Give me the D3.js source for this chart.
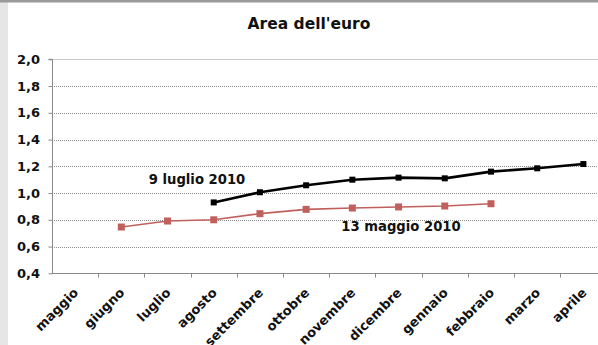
<!DOCTYPE html>
<html>
<head>
<meta charset="utf-8">
<script src="https://cdn.jsdelivr.net/npm/d3@7"></script>
<style>
  html, body { margin: 0; padding: 0; background: #e6e6e6; }
  svg { display: block; }
</style>
</head>
<body>
<svg id="chart" width="598" height="345"></svg>
<script>
// Mesi sull'asse orizzontale
const months = ["maggio", "giugno", "luglio", "agosto", "settembre", "ottobre",
  "novembre", "dicembre", "gennaio", "febbraio", "marzo", "aprile"];

// Previsioni del 9 luglio 2010 (da agosto ad aprile)
const july9Months = ["agosto", "settembre", "ottobre", "novembre", "dicembre",
  "gennaio", "febbraio", "marzo", "aprile"];
const july9Values = [0.93, 1.006, 1.058, 1.10, 1.115, 1.11, 1.16, 1.185, 1.217];

// Previsioni del 13 maggio 2010 (da giugno a febbraio)
const may13Months = ["giugno", "luglio", "agosto", "settembre", "ottobre",
  "novembre", "dicembre", "gennaio", "febbraio"];
const may13Values = [0.746, 0.791, 0.80, 0.846, 0.878, 0.888, 0.896, 0.903, 0.92];

const yTicks = [0.4, 0.6, 0.8, 1.0, 1.2, 1.4, 1.6, 1.8, 2.0];

const svg = d3.select("#chart");
const W = 598, H = 345;
const FONT = "DejaVu Sans, Verdana, sans-serif";

// pannello bianco con bordo superiore grigio
svg.append("rect").attr("x", 8).attr("y", 0).attr("width", W - 8).attr("height", H).attr("fill", "#ffffff");
svg.append("rect").attr("x", 0).attr("y", 0).attr("width", W).attr("height", 2.5).attr("fill", "#9a9a9a");

const x = d3.scaleBand().domain(months).range([52, 606.5]).paddingInner(0).paddingOuter(0);
const y = d3.scaleLinear().domain([0.4, 2.0]).range([273.3, 59.3]);
const fmt = d => d3.format(".1f")(d).replace(".", ",");

// titolo
svg.append("text")
  .attr("x", 309).attr("y", 29)
  .attr("text-anchor", "middle")
  .attr("font-family", FONT)
  .attr("font-weight", "bold")
  .attr("font-size", 15.5)
  .attr("fill", "#111")
  .text("Area dell'euro");

// griglia orizzontale
svg.append("g").selectAll("line")
  .data(yTicks.filter(t => t > 0.4))
  .join("line")
  .attr("x1", 52).attr("x2", W)
  .attr("y1", d => Math.round(y(d)) + 0.5).attr("y2", d => Math.round(y(d)) + 0.5)
  .attr("stroke", d => d === 2.0 ? "#c8c8c8" : "#8c8c8c")
  .attr("stroke-width", 1)
  .attr("stroke-dasharray", d => d === 2.0 ? null : "1,1");

// asse Y
const yAxis = svg.append("g")
  .attr("transform", "translate(52.5,0)")
  .call(d3.axisLeft(y).tickValues(yTicks).tickFormat(fmt).tickSize(4).tickPadding(8.5));
yAxis.select(".domain").attr("stroke", "#888").attr("d", `M-4,${y(2.0)}H0V${y(0.4)}`);
yAxis.selectAll(".tick line").attr("stroke", "#888");
yAxis.selectAll(".tick text")
  .attr("font-family", FONT)
  .attr("font-weight", "bold")
  .attr("font-size", 13)
  .attr("fill", "#111");

// asse X con tacche tra le categorie
const xAxisG = svg.append("g").attr("transform", `translate(0,${Math.round(y(0.4)) + 0.5})`);
xAxisG.append("line").attr("x1", 52).attr("x2", W).attr("stroke", "#888");
xAxisG.selectAll("line.tk")
  .data(months.slice(1))
  .join("line")
  .attr("class", "tk")
  .attr("x1", d => Math.round(x(d)) + 0.5).attr("x2", d => Math.round(x(d)) + 0.5)
  .attr("y1", 0).attr("y2", 4)
  .attr("stroke", "#888");
xAxisG.selectAll("text")
  .data(months)
  .join("text")
  .attr("transform", d => `translate(${x(d) + x.bandwidth() / 2 + 4},${20}) rotate(-45)`)
  .attr("text-anchor", "end")
  .attr("font-family", FONT)
  .attr("font-weight", "bold")
  .attr("font-size", 13)
  .attr("fill", "#111")
  .text(d => d);

const cx = m => x(m) + x.bandwidth() / 2;
const line = d3.line().x(d => cx(d[0])).y(d => y(d[1]));

// serie 13 maggio 2010
const may = may13Months.map((m, i) => [m, may13Values[i]]);
svg.append("path").datum(may)
  .attr("d", line).attr("fill", "none")
  .attr("stroke", "#c0605c").attr("stroke-width", 1.6);
svg.append("g").selectAll("rect").data(may).join("rect")
  .attr("x", d => cx(d[0]) - 3.5).attr("y", d => y(d[1]) - 3.5)
  .attr("width", 7).attr("height", 7)
  .attr("fill", "#c0605c");

// serie 9 luglio 2010
const jul = july9Months.map((m, i) => [m, july9Values[i]]);
svg.append("path").datum(jul)
  .attr("d", line).attr("fill", "none")
  .attr("stroke", "#000").attr("stroke-width", 2.6);
svg.append("g").selectAll("rect").data(jul).join("rect")
  .attr("x", d => cx(d[0]) - 3).attr("y", d => y(d[1]) - 3)
  .attr("width", 6).attr("height", 6)
  .attr("fill", "#000");

// etichette delle serie
const lab = (txt, xx, yy) => svg.append("text")
  .attr("x", xx).attr("y", yy)
  .attr("text-anchor", "middle")
  .attr("font-family", FONT)
  .attr("font-weight", "bold")
  .attr("font-size", 13.2)
  .attr("fill", "#111")
  .text(txt);
lab("9 luglio 2010", 197, 184);
lab("13 maggio 2010", 401, 231);
</script>
</body>
</html>
